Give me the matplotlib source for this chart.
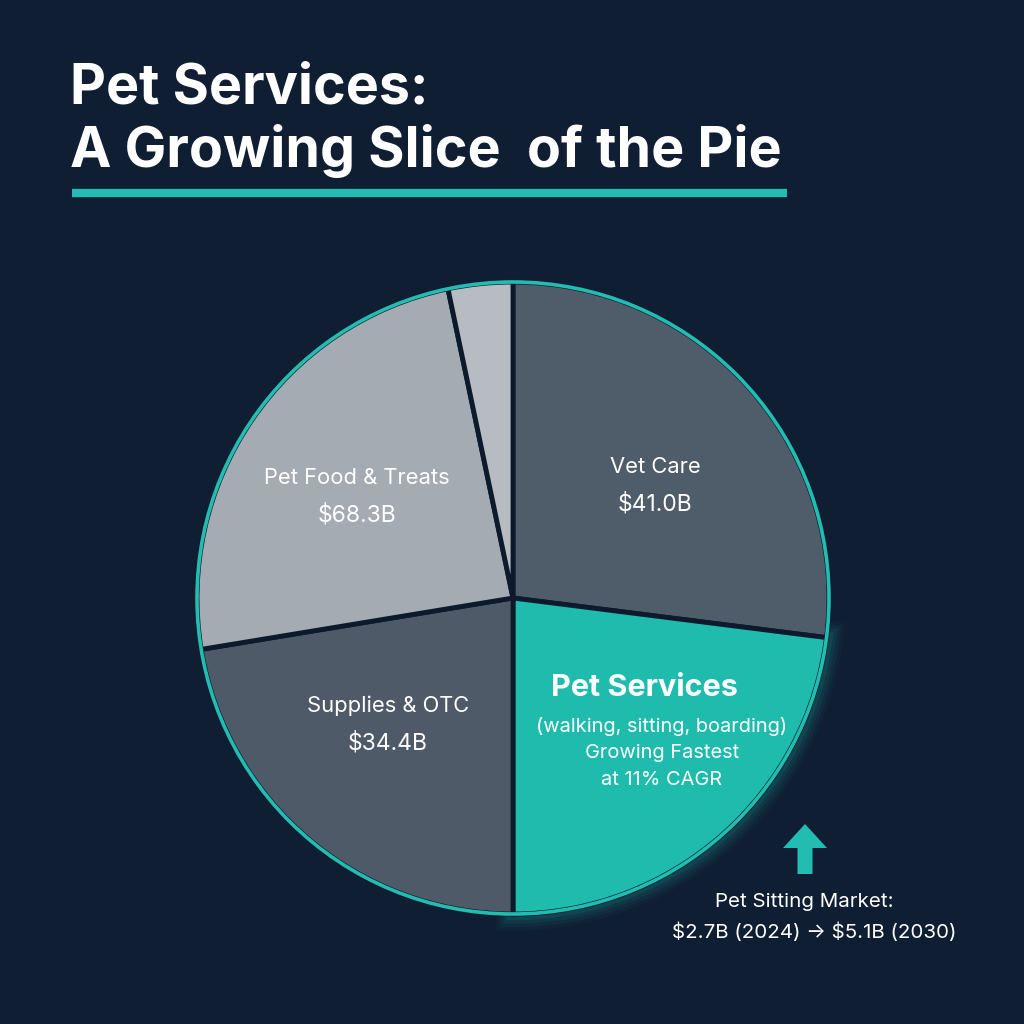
import matplotlib
matplotlib.use("Agg")
import matplotlib.pyplot as plt
from matplotlib.patches import Circle, FancyArrow

plt.rcParams["font.family"] = ["Inter", "DejaVu Sans"]

BG = "#0f1e33"
TEAL = "#22bdb0"
NAVY = "#0d1a2c"

# slice shares (clockwise from 12 o'clock)
segments = ["Vet Care", "Pet Services", "Supplies & OTC", "Pet Food & Treats", "Other"]
shares = [27.0, 23.0, 22.4, 24.3, 3.3]
values = [r"\$41.0B", None, r"\$34.4B", r"\$68.3B", None]
colors = ["#4f5c6a", "#1fbcae", "#4e5a68", "#a4abb3", "#b6bcc2"]

title_lines = ["Pet Services:", "A Growing Slice  of the Pie"]
services_notes = ["(walking, sitting, boarding)", "Growing Fastest", "at 11% CAGR"]
market_note = ["Pet Sitting Market:", "\\$2.7B (2024) \u2192 \\$5.1B (2030)"]

fig = plt.figure(figsize=(10.24, 10.24), dpi=100, facecolor=BG)

# pie axes: centre (513, 598), radius 316 px
cx, cy, r = 513, 598, 316
pad = 20
ax = fig.add_axes([(cx - r - pad) / 1024, (1024 - cy - r - pad) / 1024,
                   (2 * r + 2 * pad) / 1024, (2 * r + 2 * pad) / 1024])
ax.set_facecolor(BG)
lim = 1 + pad / r
ax.axis("off")

# soft glow around the services slice
for k, a in enumerate([0.04, 0.06, 0.08, 0.11]):
    w, _ = ax.pie([shares[1], 100 - shares[1]], startangle=90 - 3.6 * shares[0],
                  counterclock=False, radius=1.0,
                  colors=["none", "none"],
                  wedgeprops=dict(edgecolor=TEAL, linewidth=24 - 5 * k, alpha=a))
    w[1].set_visible(False)

wedges, _ = ax.pie(shares, startangle=90, counterclock=False, colors=colors,
                   radius=1.0, wedgeprops=dict(edgecolor=NAVY, linewidth=3.5))
ax.add_patch(Circle((0, 0), 1.0, fill=False, edgecolor=TEAL, linewidth=2.6, zorder=5))
ax.set_aspect("equal")
ax.set_xlim(-lim, lim)
ax.set_ylim(-lim, lim)

# overlay axes in pixel coordinates for text
ov = fig.add_axes([0, 0, 1, 1])
ov.set_xlim(0, 1024)
ov.set_ylim(1024, 0)
ov.axis("off")
ov.patch.set_alpha(0)

ov.text(70, 89, title_lines[0], color="white", fontsize=40, fontweight="bold",
        ha="left", va="center")
ov.text(70, 151, title_lines[1], color="white", fontsize=40, fontweight="bold",
        ha="left", va="center")
ov.plot([72, 787], [193, 193], color=TEAL, linewidth=6, solid_capstyle="butt")

label_pos = {"Vet Care": (655, 467), "Supplies & OTC": (388, 706), "Pet Food & Treats": (357, 478)}
for name, val in zip(segments, values):
    if name in label_pos:
        x, y = label_pos[name]
        ov.text(x, y, name, color="white", fontsize=15.8, ha="center", va="center")
        ov.text(x, y + 37, val, color="white", fontsize=16.5, ha="center", va="center")

ov.text(644, 688, segments[1], color="white", fontsize=22, fontweight="bold",
        ha="center", va="center")
for i, line in enumerate(services_notes):
    ov.text(662, 726 + 27 * i, line, color="white", fontsize=14.4, ha="center", va="center")

ov.add_patch(FancyArrow(805, 874, 0, -50, width=15, head_width=44, head_length=24,
                        length_includes_head=True, color=TEAL, linewidth=0))
ov.text(804, 902, market_note[0], color="white", fontsize=14.8, ha="center", va="center")
ov.text(814, 932, market_note[1], color="white", fontsize=14.8, ha="center", va="center")

fig.savefig("out.png", dpi=100, facecolor=BG)
